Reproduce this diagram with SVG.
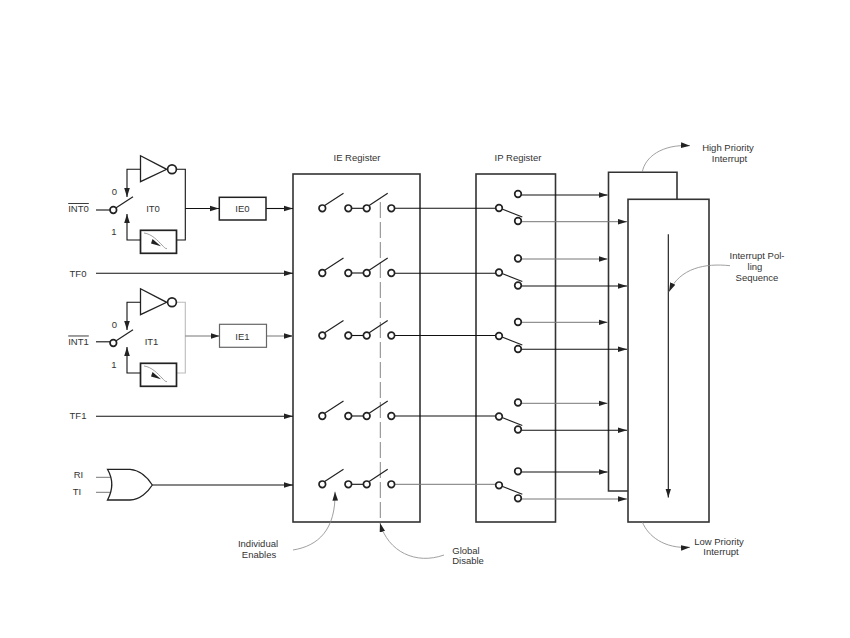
<svg xmlns="http://www.w3.org/2000/svg" width="850" height="638" viewBox="0 0 850 638">
<style>
text{font-family:"Liberation Sans",Arial,sans-serif;font-size:9.5px;fill:#333;text-anchor:middle}
.box{fill:#fff;stroke:#333;stroke-width:1.6}
.w{fill:none;stroke:#111;stroke-width:1.1}
.g{fill:none;stroke:#777;stroke-width:1}
.c{fill:none;stroke:#888;stroke-width:.8}
.a{marker-end:url(#arr)}
.pin{fill:#fff;stroke:#222;stroke-width:1.7}
.arm{fill:none;stroke:#222;stroke-width:1.2}
</style>
<defs>
<marker id="arr" markerUnits="userSpaceOnUse" markerWidth="10" markerHeight="7" refX="9" refY="3.500" orient="auto"><path d="M0 .7L9 3.500L0 6.300z" fill="#222"/></marker>
<g id="pair">
<path class="arm" d="M323.500 -2L343.500 -15M368 -2L387.700 -15"/>
<path class="w" d="M351.500 0H363.500"/>
<circle class="pin" cx="322.300" cy="0" r="3.300"/><circle class="pin" cx="348.300" cy="0" r="3.300"/>
<circle class="pin" cx="366.700" cy="0" r="3.300"/><circle class="pin" cx="391.300" cy="0" r="3.300"/>
</g>
<g id="sel">
<path class="arm" d="M502 1L522.300 9"/>
<circle class="pin" cx="499" cy="0" r="3.300"/><circle class="pin" cx="518" cy="-14" r="3.300"/><circle class="pin" cx="518" cy="13" r="3.300"/>
</g>
<g id="edge">
<path d="M140.500 155.700V181.700L166.700 169.300Z" fill="#fff" stroke="#222" stroke-width="1.300"/>
<circle cx="172" cy="169.300" r="4.400" fill="#fff" stroke="#222" stroke-width="1.700"/>
<rect x="140.500" y="230.300" width="36" height="23" fill="#fff" stroke="#222" stroke-width="1.700"/>
<path d="M144 233C152 234 158 241 162 245C164 247 165 248.700 167 248.700" fill="none" stroke="#888" stroke-width=".8"/>
<path d="M152.500 239L161 246.300L151 243.500Z" fill="#222"/>
<path class="arm" d="M115 208.500L133 196.700"/>
<circle class="pin" cx="113.300" cy="210" r="3.300"/>
<path class="w a" d="M140.500 169.300H127V197"/>
<path class="w a" d="M140.500 240H127V214"/>
</g>
</defs>

<g id="register-boxes">
<g id="ie-register"><rect class="box" x="293" y="174" width="127" height="348"/><text x="357" y="161">IE Register</text></g>
<g id="ip-register"><rect class="box" x="476" y="174" width="79.500" height="348"/><text x="518" y="161">IP Register</text></g>
<g id="high-priority"><path class="box" d="M628 491H608.500V172.300H677V199.300"/></g>
<g id="low-priority"><rect class="box" x="628" y="199.300" width="81" height="322.700"/></g>
</g>

<g id="connectors">
<path class="w" d="M96 210H110"/>
<path class="w" d="M96 341.800H110"/>
<path class="w" d="M176.800 169.300H185.300V240H176.500"/>
<path class="w a" d="M185.300 208.500H219"/>
<path class="w a" d="M266 208.500H293"/>
<path class="w a" d="M96 273.300H293"/>
<path d="M176.800 302.300H185.300V373H176.500" fill="none" stroke="#bbb" stroke-width="1.100"/>
<path class="g a" d="M185.300 336H219.500"/>
<path class="g a" d="M266.500 336H293"/>
<path class="w a" d="M96 416.300H293"/>
<path class="g" d="M96 477.300H111M96 492.300H111"/>
<path class="w a" d="M152.300 485H293"/>

<path class="w" d="M394.500 208.300H496M394.500 273.300H496M394.500 335.500H496M394.500 416H496"/>
<path class="g" d="M394.500 484.300H496"/>

<path class="w a" d="M521 195H607.500"/>
<path class="g a" d="M521 221.700H627"/>
<path class="g a" d="M521 259H607.500"/>
<path class="w a" d="M521 286H627"/>
<path class="g a" d="M521 322.300H607.500"/>
<path class="w a" d="M521 349.300H627"/>
<path class="g a" d="M521 403.300H607.500"/>
<path class="w a" d="M521 430.300H627"/>
<path class="w a" d="M521 472H607.500"/>
<path class="g a" d="M521 499H627"/>

<path class="w a" d="M668.300 234.300V497.500"/>
<path d="M380.300 202V522" fill="none" stroke="#777" stroke-width=".9" stroke-dasharray="16 4"/>

<path class="c a" d="M642.300 172C645 157 662 144 690 145.700"/>
<path class="c a" d="M730 265.700C705 263 680 268 669 291.700"/>
<path class="c a" d="M642.300 522C648 536 664 549 690 547.300"/>
<path class="c a" d="M293 550C318 546 336 530 335 491.700"/>
<path class="c a" d="M444 555C416 565 388 552 380 523"/>
</g>

<g id="int0-input"><use href="#edge"/><text x="78.500" y="212" text-decoration="overline">INT0</text><text x="114.500" y="195">0</text><text x="114" y="235">1</text><text x="153" y="212">IT0</text></g>
<g id="ie0"><rect x="219.300" y="197.300" width="46.700" height="22.700" fill="#fff" stroke="#222" stroke-width="1.500"/><text x="242.500" y="212">IE0</text></g>
<g id="tf0-input"><text x="78" y="276.500">TF0</text></g>
<g id="int1-input"><use href="#edge" y="133"/><text x="78.500" y="344.500" text-decoration="overline">INT1</text><text x="114.500" y="328">0</text><text x="114" y="368">1</text><text x="151.500" y="345">IT1</text></g>
<g id="ie1"><rect x="219.500" y="324.300" width="47" height="23" fill="#fff" stroke="#666" stroke-width="1.200"/><text x="242.500" y="339.500">IE1</text></g>
<g id="tf1-input"><text x="78" y="418.500">TF1</text></g>
<g id="or-gate">
<path d="M107.500 469.300H130C140 470 148 478 152.300 485C148 492 140 499.500 130 500H107.500C113 490 113 479 107.500 469.300Z" fill="#fff" stroke="#222" stroke-width="1.300"/>
<text x="78.500" y="478">RI</text><text x="77" y="495">TI</text>
</g>

<g id="row-0"><use href="#pair" y="208.300"/><use href="#sel" y="208"/></g>
<g id="row-1"><use href="#pair" y="273"/><use href="#sel" y="272.500"/></g>
<g id="row-2"><use href="#pair" y="335.500"/><use href="#sel" y="336"/></g>
<g id="row-3"><use href="#pair" y="416"/><use href="#sel" y="416.500"/></g>
<g id="row-4"><use href="#pair" y="484.300"/><use href="#sel" y="485.300"/></g>

<g id="labels">
<text x="728" y="151">High Priority</text><text x="729.500" y="162">Interrupt</text>
<text x="757" y="259">Interrupt Pol-</text><text x="755" y="269.500">ling</text><text x="757" y="280.500">Sequence</text>
<text x="719" y="544.500">Low Priority</text><text x="721" y="555">Interrupt</text>
<text x="258" y="547">Individual</text><text x="259" y="558">Enables</text>
<text x="466" y="553.500">Global</text><text x="468" y="564">Disable</text>
</g>
</svg>
